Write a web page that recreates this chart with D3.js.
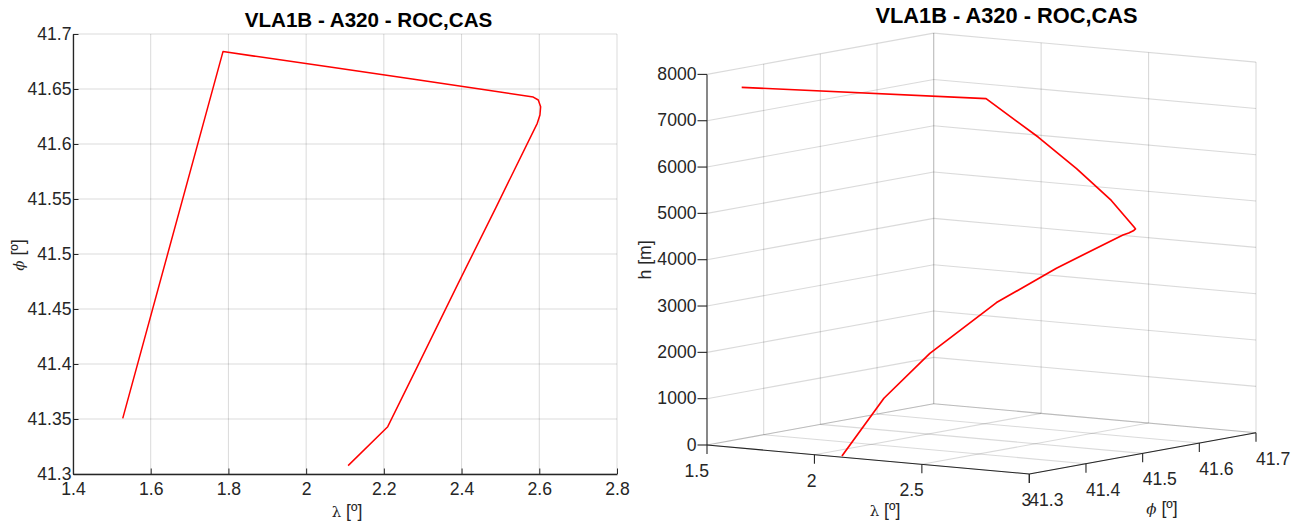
<!DOCTYPE html>
<html>
<head>
<meta charset="utf-8">
<script src="https://cdn.jsdelivr.net/npm/d3@7"></script>
<style>
  html, body { margin: 0; padding: 0; background: #fff; }
  svg { display: block; font-family: "Liberation Sans", Arial, Helvetica, sans-serif; }
  .tick text { fill: #262626; }
</style>
</head>
<body>
<svg id="fig" width="1301" height="524"></svg>
<script>
// Flight track of the VLA1B departure (A320, ROC/CAS profile)
const trackLon = [2.108, 2.210, 2.284, 2.391, 2.488, 2.5948, 2.6017, 2.6035, 2.5974, 2.5845,
                  2.460, 2.273, 2.066, 1.786, 1.528];
const trackLat = [41.3076, 41.343, 41.396, 41.473, 41.542, 41.6188, 41.6264, 41.6339, 41.6400, 41.6427,
                  41.6494, 41.659, 41.6697, 41.684, 41.3506];
const trackAlt = [0, 1210, 2090, 3060, 3690, 4280, 4310, 4340, 4365, 4390,
                  4900, 5490, 6060, 6740, 7620];

const titleText = "VLA1B - A320 - ROC,CAS";

// 2-D map axes
const mapLonTicks = [1.4, 1.6, 1.8, 2.0, 2.2, 2.4, 2.6, 2.8];
const mapLonLabels = ["1.4", "1.6", "1.8", "2", "2.2", "2.4", "2.6", "2.8"];
const mapLatTicks = [41.3, 41.35, 41.4, 41.45, 41.5, 41.55, 41.6, 41.65, 41.7];
const mapLatLabels = ["41.3", "41.35", "41.4", "41.45", "41.5", "41.55", "41.6", "41.65", "41.7"];

// 3-D axes
const boxLonTicks = [1.5, 2, 2.5, 3];
const boxLonLabels = ["1.5", "2", "2.5", "3"];
const boxLatTicks = [41.3, 41.4, 41.5, 41.6, 41.7];
const boxLatLabels = ["41.3", "41.4", "41.5", "41.6", "41.7"];
const boxAltTicks = [0, 1000, 2000, 3000, 4000, 5000, 6000, 7000, 8000];
const boxAltLabels = ["0", "1000", "2000", "3000", "4000", "5000", "6000", "7000", "8000"];

const INK = "#262626";
const GRID = "rgba(38,38,38,0.17)";
const TICK_FONT = 17.6;
const idx = d3.range(trackLon.length);

const svg = d3.select("#fig");

/* ---------------- left: ground track ---------------- */
const x2 = d3.scaleLinear().domain([1.4, 2.8]).range([73, 617]);
const y2 = d3.scaleLinear().domain([41.3, 41.7]).range([474, 34]);

const map = svg.append("g");

// grid
map.append("g").selectAll("line").data(mapLonTicks).join("line")
  .attr("x1", d => x2(d)).attr("x2", d => x2(d))
  .attr("y1", y2(41.3)).attr("y2", y2(41.7))
  .attr("stroke", GRID).attr("stroke-width", 1);
map.append("g").selectAll("line").data(mapLatTicks).join("line")
  .attr("x1", x2(1.4)).attr("x2", x2(2.8))
  .attr("y1", d => y2(d)).attr("y2", d => y2(d))
  .attr("stroke", GRID).attr("stroke-width", 1);

// axes with inward ticks
const axB = map.append("g").attr("transform", `translate(0,${y2(41.3)})`)
  .call(d3.axisBottom(x2).tickValues(mapLonTicks)
    .tickFormat((d, i) => mapLonLabels[i]).tickSizeInner(-5.5).tickSizeOuter(0).tickPadding(8.5));
const axL = map.append("g").attr("transform", `translate(${x2(1.4)},0)`)
  .call(d3.axisLeft(y2).tickValues(mapLatTicks)
    .tickFormat((d, i) => mapLatLabels[i]).tickSizeInner(-5.5).tickSizeOuter(0).tickPadding(1.5));
[axB, axL].forEach(a => {
  a.attr("font-family", null).attr("font-size", TICK_FONT);
  a.select(".domain").attr("stroke", INK).attr("stroke-width", 1.3);
  a.selectAll(".tick line").attr("stroke", INK);
});

// track
map.append("path")
  .datum(idx)
  .attr("d", d3.line().x(i => x2(trackLon[i])).y(i => y2(trackLat[i])))
  .attr("fill", "none").attr("stroke", "#ff0000").attr("stroke-width", 1.5)
  .attr("stroke-linejoin", "round");

// titles
map.append("text").attr("x", 368.5).attr("y", 26.7).attr("text-anchor", "middle")
  .attr("font-size", 20.6).attr("font-weight", "bold").attr("fill", "#000").text(titleText);

const lamLabel = map.append("text").attr("x", 347).attr("y", 517).attr("text-anchor", "middle")
  .attr("font-size", TICK_FONT).attr("fill", INK);
lamLabel.append("tspan").attr("font-family", "DejaVu Serif").attr("font-size", 15).text("λ");
lamLabel.append("tspan").text(" [º]");

const phiLabel = map.append("text").attr("transform", "translate(24,255) rotate(-90)")
  .attr("text-anchor", "middle").attr("font-size", TICK_FONT).attr("fill", INK);
phiLabel.append("tspan").attr("font-family", "DejaVu Serif").attr("font-style", "italic").attr("font-size", 15).text("ϕ");
phiLabel.append("tspan").text(" [º]");

/* ---------------- right: 3-D trajectory ---------------- */
const fLon = d3.scaleLinear().domain([1.5, 3]).range([0, 1]);
const fLat = d3.scaleLinear().domain([41.3, 41.7]).range([0, 1]);
const fAlt = d3.scaleLinear().domain([0, 8000]).range([0, 1]);
// screen basis of the projected box
const O = [707, 445], U = [322.3, 29], V = [226.7, -41.3], W = [0, -370.6];
const proj = (lo, la, h) => {
  const a = fLon(lo), b = fLat(la), c = fAlt(h);
  return [O[0] + a * U[0] + b * V[0] + c * W[0], O[1] + a * U[1] + b * V[1] + c * W[1]];
};

const box = svg.append("g");
const seg = (p, q) => ({ p, q });
const gridSegs = [];
// back wall (lat = 41.7)
boxLonTicks.forEach(lo => gridSegs.push(seg(proj(lo, 41.7, 0), proj(lo, 41.7, 8000))));
boxAltTicks.forEach(h => gridSegs.push(seg(proj(1.5, 41.7, h), proj(3, 41.7, h))));
// side wall (lon = 1.5)
boxLatTicks.slice(1).forEach(la => gridSegs.push(seg(proj(1.5, la, 0), proj(1.5, la, 8000))));
boxAltTicks.forEach(h => gridSegs.push(seg(proj(1.5, 41.3, h), proj(1.5, 41.7, h))));
// floor (h = 0)
boxLonTicks.forEach(lo => gridSegs.push(seg(proj(lo, 41.3, 0), proj(lo, 41.7, 0))));
boxLatTicks.forEach(la => gridSegs.push(seg(proj(1.5, la, 0), proj(3, la, 0))));

box.append("g").selectAll("line").data(gridSegs).join("line")
  .attr("x1", d => d.p[0]).attr("y1", d => d.p[1])
  .attr("x2", d => d.q[0]).attr("y2", d => d.q[1])
  .attr("stroke", GRID).attr("stroke-width", 1.1);

// axis lines
const axisSegs = [
  seg(proj(1.5, 41.3, 0), proj(1.5, 41.3, 8000)),
  seg(proj(1.5, 41.3, 0), proj(3, 41.3, 0)),
  seg(proj(3, 41.3, 0), proj(3, 41.7, 0))
];
box.append("g").selectAll("line").data(axisSegs).join("line")
  .attr("x1", d => d.p[0]).attr("y1", d => d.p[1])
  .attr("x2", d => d.q[0]).attr("y2", d => d.q[1])
  .attr("stroke", INK).attr("stroke-width", 1.1);

// altitude ticks and labels
const altG = box.append("g").selectAll("g").data(boxAltTicks).join("g")
  .attr("transform", d => { const p = proj(1.5, 41.3, d); return `translate(${p[0]},${p[1]})`; });
altG.append("line").attr("x1", -9.5).attr("x2", 0).attr("stroke", INK).attr("stroke-width", 1.1);
altG.append("text").attr("x", -10.5).attr("dy", "0.32em").attr("text-anchor", "end")
  .attr("font-size", TICK_FONT).attr("fill", INK).text((d, i) => boxAltLabels[i]);

// longitude ticks and labels
const lonG = box.append("g").selectAll("g").data(boxLonTicks).join("g")
  .attr("transform", d => { const p = proj(d, 41.3, 0); return `translate(${p[0]},${p[1]})`; });
lonG.append("line").attr("y1", 0).attr("y2", 9).attr("stroke", INK).attr("stroke-width", 1.1);
lonG.append("text").attr("x", 2).attr("y", 32).attr("text-anchor", "end")
  .attr("font-size", TICK_FONT).attr("fill", INK).text((d, i) => boxLonLabels[i]);

// latitude ticks and labels
const latG = box.append("g").selectAll("g").data(boxLatTicks).join("g")
  .attr("transform", d => { const p = proj(3, d, 0); return `translate(${p[0]},${p[1]})`; });
latG.append("line").attr("y1", 0).attr("y2", 9).attr("stroke", INK).attr("stroke-width", 1.1);
latG.append("text").attr("x", 0).attr("y", 32).attr("text-anchor", "start")
  .attr("font-size", TICK_FONT).attr("fill", INK).text((d, i) => boxLatLabels[i]);

// trajectory
box.append("path")
  .datum(idx)
  .attr("d", d3.line().x(i => proj(trackLon[i], trackLat[i], trackAlt[i])[0])
                      .y(i => proj(trackLon[i], trackLat[i], trackAlt[i])[1]))
  .attr("fill", "none").attr("stroke", "#ff0000").attr("stroke-width", 1.7)
  .attr("stroke-linejoin", "round");

// titles
box.append("text").attr("x", 1006.5).attr("y", 23.3).attr("text-anchor", "middle")
  .attr("font-size", 21.8).attr("font-weight", "bold").attr("fill", "#000").text(titleText);

const lam3 = box.append("text").attr("x", 885).attr("y", 516).attr("text-anchor", "middle")
  .attr("font-size", TICK_FONT).attr("fill", INK);
lam3.append("tspan").attr("font-family", "DejaVu Serif").attr("font-size", 15).text("λ");
lam3.append("tspan").text(" [º]");

const phi3 = box.append("text").attr("x", 1162).attr("y", 514).attr("text-anchor", "middle")
  .attr("font-size", TICK_FONT).attr("fill", INK);
phi3.append("tspan").attr("font-family", "DejaVu Serif").attr("font-style", "italic").attr("font-size", 15).text("ϕ");
phi3.append("tspan").text(" [º]");

box.append("text").attr("transform", "translate(651,260) rotate(-90)")
  .attr("text-anchor", "middle").attr("font-size", TICK_FONT).attr("fill", INK).text("h [m]");
</script>
</body>
</html>
